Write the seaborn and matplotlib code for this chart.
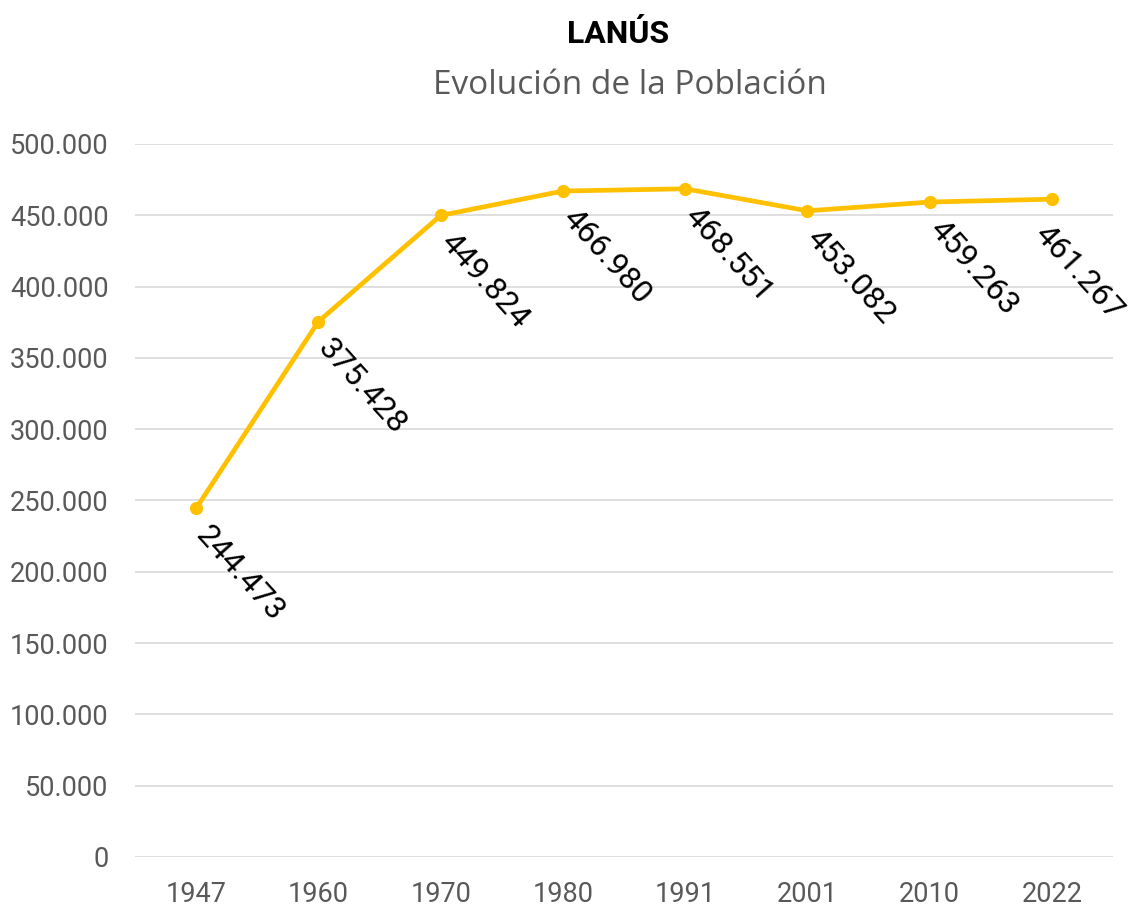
import matplotlib
matplotlib.use("Agg")
import matplotlib.pyplot as plt
import seaborn as sns
import pandas as pd
from matplotlib.ticker import FuncFormatter

years = ["1947", "1960", "1970", "1980", "1991", "2001", "2010", "2022"]
poblacion = [244473, 375428, 449824, 466980, 468551, 453082, 459263, 461267]

df = pd.DataFrame({"Año": years, "Población": poblacion})

sns.set_theme(style="white")
plt.rcParams["font.family"] = ["Roboto", "DejaVu Sans"]

fig = plt.figure(figsize=(11.4, 9.11), dpi=100)
ax = fig.add_axes([0.1184, 0.0593, 0.858, 0.7827])

sns.lineplot(data=df, x="Año", y="Población", ax=ax, color="#FFC000",
             linewidth=3.4, marker="o", markersize=9.5, markeredgewidth=0, sort=False)

ax.set_xlim(-0.5, len(years) - 0.5)
ax.set_ylim(0, 500000)
ax.set_yticks(range(0, 500001, 50000))
ax.yaxis.set_major_formatter(FuncFormatter(lambda v, p: f"{int(v):,}".replace(",", ".")))
ax.grid(axis="y", color="#D9D9D9", linewidth=1.2)
ax.set_axisbelow(True)
for s in ax.spines.values():
    s.set_visible(False)
ax.tick_params(axis="both", length=0, labelsize=19.5, colors="#595959")
ax.tick_params(axis="y", pad=19)
ax.tick_params(axis="x", pad=17)
ax.set_xlabel("")
ax.set_ylabel("")

# el último rótulo se corre a la izquierda para que entre en la figura
for i, v in enumerate(poblacion):
    off = (11, -9) if i < len(poblacion) - 1 else (-1, -15)
    ax.annotate(f"{v:,}".replace(",", "."), (i, v), xytext=off,
                textcoords="offset points", rotation=-48, rotation_mode="anchor",
                ha="left", va="top", fontsize=23, color="#000000")

fig.text(0.542, 0.963, "LANÚS", ha="center", va="center", fontsize=23,
         fontweight="bold", color="#000000")
fig.text(0.553, 0.906, "Evolución de la Población", ha="center", va="center",
         fontsize=24, color="#595959", family=["Open Sans", "DejaVu Sans"])

fig.savefig("out.png", dpi=100, facecolor="white")
